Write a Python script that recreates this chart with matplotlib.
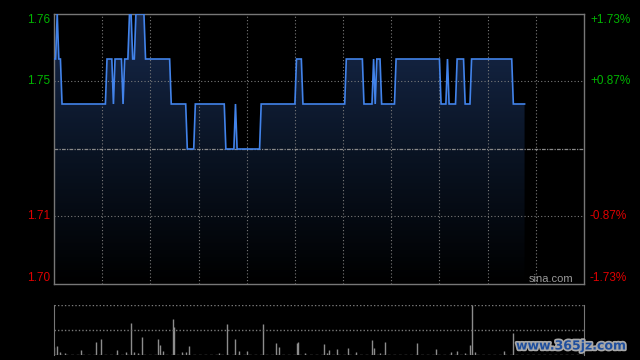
import matplotlib
matplotlib.use("Agg")
import matplotlib.pyplot as plt
import matplotlib.patheffects as pe
import numpy as np
from matplotlib.colors import LinearSegmentedColormap

# ---- data ----
prev_close = 1.73
price_min = [0, 1, 2, 3, 4, 5, 32, 33, 36, 37, 38, 42, 43, 44, 46, 47, 48, 49, 50, 51,
             56, 57, 72, 73, 82, 83, 87, 88, 106, 107, 112, 113, 114, 128, 129, 150, 151,
             154, 155, 181, 182, 192, 193, 198, 199, 200, 201, 203, 204, 212, 213, 240,
             241, 244, 245, 246, 250, 251, 255, 256, 259, 260, 285, 286, 293]
price = [1.75, 1.75, 1.76, 1.75, 1.75, 1.74, 1.74, 1.75, 1.75, 1.74, 1.75, 1.75, 1.74,
         1.75, 1.75, 1.76, 1.76, 1.75, 1.75, 1.76, 1.76, 1.75, 1.75, 1.74, 1.74, 1.73,
         1.73, 1.74, 1.74, 1.73, 1.73, 1.74, 1.73, 1.73, 1.74, 1.74, 1.75, 1.75, 1.74,
         1.74, 1.75, 1.75, 1.74, 1.74, 1.75, 1.74, 1.75, 1.75, 1.74, 1.74, 1.75, 1.75,
         1.74, 1.74, 1.75, 1.74, 1.74, 1.75, 1.75, 1.74, 1.74, 1.75, 1.75, 1.74, 1.74]

vol_min = [0, 2, 4, 7, 17, 26, 29, 39, 45, 48, 50, 52, 55, 65, 66, 68, 74, 75, 80, 82, 84,
           103, 108, 113, 115, 120, 130, 138, 140, 151, 152, 156, 168, 170, 171, 176, 183,
           188, 198, 199, 203, 206, 226, 238, 247, 251, 256, 259, 260, 262, 280, 286]
volume = [160, 180, 60, 40, 100, 260, 320, 100, 60, 640, 60, 40, 360, 320, 200, 80, 720,
          560, 60, 60, 180, 40, 620, 320, 80, 80, 620, 240, 160, 240, 260, 40, 220, 40,
          100, 120, 140, 60, 300, 140, 40, 260, 240, 120, 60, 80, 40, 200, 1000, 60, 80, 440]

left_ticks = [1.70, 1.715, 1.73, 1.745, 1.76]
left_labels = ["1.70", "1.71", "", "1.75", "1.76"]
right_labels = ["-1.73%", "-0.87%", "", "+0.87%", "+1.73%"]
total_minutes = 330

# ---- styling ----
GREEN = "#00b400"
RED = "#e00000"
GRID = "#7a7a7a"
SPINE = "#777777"
LINE = "#4283ea"

plt.rcParams['font.family'] = ['Liberation Sans', 'DejaVu Sans']
fig = plt.figure(figsize=(6.4, 3.6), dpi=100, facecolor="black")

ax = fig.add_axes([54 / 640, 1 - 284 / 360, 530 / 640, 270 / 360])
ax.set_facecolor("black")
ymin, ymax = left_ticks[0], left_ticks[-1]
ax.set_xlim(0, total_minutes)
ax.set_ylim(ymin, ymax)

# gradient fill under price line
x = np.array(price_min, dtype=float)
y = np.array(price)
poly = ax.fill_between(x, y, ymin, color="none", lw=0)
cmap = LinearSegmentedColormap.from_list("g", ["#000000", "#0a1424", "#17294c"])
grad = np.linspace(0, 1, 256).reshape(-1, 1)
im = ax.imshow(grad, cmap=cmap, aspect="auto", origin="lower",
               extent=[0, total_minutes, ymin, ymax], zorder=1)
path = poly.get_paths()[0]
im.set_clip_path(path, transform=ax.transData)

# grid
for t in range(30, total_minutes, 30):
    ax.axvline(t, color=GRID, lw=0.8, ls=(0, (1, 2)), zorder=2)
for v in [left_ticks[1], left_ticks[3]]:
    ax.axhline(v, color=GRID, lw=0.8, ls=(0, (1, 2)), zorder=2)
ax.axhline(prev_close, color="#8a8a8a", lw=0.9, ls=(0, (3, 1, 1, 1)), zorder=2)

ax.plot(x, y, color=LINE, lw=1.2, zorder=3, solid_joinstyle="miter")

for s in ax.spines.values():
    s.set_color(SPINE)
    s.set_linewidth(1.0)

ax.set_xticks([])
ax.set_yticks(left_ticks)
ax.set_yticklabels(left_labels)
ax.tick_params(axis="y", length=0, pad=2.5, labelsize=8.5)
for i, lab in enumerate(ax.get_yticklabels()):
    lab.set_color(GREEN if left_ticks[i] > prev_close else RED)
    if i == len(left_ticks) - 1:
        lab.set_va("top")
    elif i == 0:
        lab.set_va("bottom")
    else:
        lab.set_va("center")

axr = ax.twinx()
axr.set_ylim(ymin, ymax)
axr.set_yticks(left_ticks)
axr.set_yticklabels(right_labels)
axr.tick_params(axis="y", length=0, pad=4.3, labelsize=8.5)
for i, lab in enumerate(axr.get_yticklabels()):
    lab.set_color(GREEN if left_ticks[i] > prev_close else RED)
    if i == len(left_ticks) - 1:
        lab.set_va("top")
    elif i == 0:
        lab.set_va("bottom")
    else:
        lab.set_va("center")
for s in axr.spines.values():
    s.set_visible(False)

ax.text(0.979, 0.0185, "sina.com", transform=ax.transAxes, ha="right", va="center",
        color="#9a9a9a", fontsize=8, zorder=5)

# ---- volume panel ----
axv = fig.add_axes([54 / 640, 1 - 355 / 360, 530 / 640, 50 / 360])
axv.set_facecolor("black")
axv.set_xlim(0, total_minutes)
vmax = max(volume)
axv.set_ylim(0, vmax)
axv.vlines(vol_min, 0, volume, color="#8c8c8c", lw=1.0)
axv.axhline(vmax, color=GRID, lw=1.0, ls=(0, (1, 1.5)))
axv.axhline(vmax / 2, color=GRID, lw=1.0, ls=(0, (1, 1.5)))
axv.axhline(0, color=GRID, lw=1.0, ls=(0, (2, 2)))
for k in ["top", "bottom"]:
    axv.spines[k].set_visible(False)
for k in ["left", "right"]:
    axv.spines[k].set_color(SPINE)
axv.set_xticks([])
axv.set_yticks([])

fig.text(516 / 640, 1 - 346 / 360, "www.365jz.com", ha="left", va="center",
         fontsize=9, fontweight="bold", color="#1f4f9e", family="DejaVu Sans",
         path_effects=[pe.withStroke(linewidth=2.5, foreground="#a8a8a8")])

fig.savefig("out.png", dpi=100, facecolor="black")
